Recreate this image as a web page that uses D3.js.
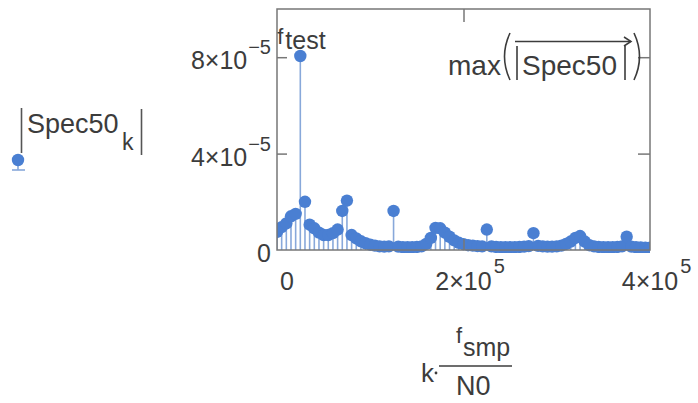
<!DOCTYPE html>
<html>
<head>
<meta charset="utf-8">
<script src="https://cdn.jsdelivr.net/npm/d3@7"></script>
<style>
  html, body { margin: 0; padding: 0; background: #ffffff; }
  svg { display: block; }
  text { font-family: "Liberation Sans", Arial, sans-serif; fill: #3c3c3c; }
</style>
</head>
<body>
<svg id="chart" width="698" height="403"></svg>
<script>
// Spectrum magnitude |Spec50_k|, bin k = 0..80 (units of 1e-5)
const spec50 = [
  0.75, 0.95, 1.10, 1.40, 1.50, 8.05, 2.00, 1.05, 0.90, 0.72,
  0.62, 0.62, 0.70, 0.85, 1.62, 2.05, 0.62, 0.48, 0.36, 0.28,
  0.22, 0.18, 0.15, 0.14, 0.15, 1.62, 0.14, 0.12, 0.12, 0.12,
  0.13, 0.15, 0.25, 0.50, 0.92, 0.90, 0.72, 0.55, 0.40, 0.30,
  0.24, 0.20, 0.18, 0.16, 0.15, 0.85, 0.15, 0.13, 0.12, 0.12,
  0.12, 0.12, 0.13, 0.14, 0.16, 0.70, 0.17, 0.15, 0.14, 0.14,
  0.15, 0.18, 0.25, 0.35, 0.50, 0.58, 0.35, 0.20, 0.15, 0.13,
  0.12, 0.12, 0.12, 0.13, 0.15, 0.55, 0.14, 0.12, 0.11, 0.10,
  0.10
];
const valueScale = 1e-5;
const fSmp = 320000;   // sampling frequency
const N0 = 64;         // number of samples
const fTest = 25000;   // test tone frequency

// axis ticks: value, mantissa, exponent
const xTicks = [[0, "0", ""], [2e5, "2×10", "5"], [4e5, "4×10", "5"]];
const yTicks = [[0, "0", ""], [4e-5, "4×10", "−5"], [8e-5, "8×10", "−5"]];

const svg = d3.select("#chart");
const x = d3.scaleLinear().domain([0, 4e5]).range([277, 650]);
const y = d3.scaleLinear().domain([0, 1e-4]).range([250, 9]);

const points = spec50.map((v, k) => ({ f: k * fSmp / N0, v: v * valueScale }));
const markerColor = "#4a7fd2";
const stemColor = "#88a8da";
const frameColor = "#777777";
const markerR = 6.2;

// traces are clipped to the plot area
svg.append("defs").append("clipPath").attr("id", "plotArea")
  .append("rect")
  .attr("x", x(0)).attr("y", y(1e-4))
  .attr("width", x(4e5) - x(0)).attr("height", y(0) - y(1e-4) + 3);

const trace = svg.append("g").attr("clip-path", "url(#plotArea)");

// stems
trace.append("g").selectAll("line").data(points).join("line")
  .attr("x1", d => x(d.f)).attr("x2", d => x(d.f))
  .attr("y1", y(0)).attr("y2", d => y(d.v))
  .attr("stroke", stemColor).attr("stroke-width", 1.6);

// markers
trace.append("g").selectAll("circle").data(points).join("circle")
  .attr("cx", d => x(d.f)).attr("cy", d => y(d.v)).attr("r", markerR)
  .attr("fill", markerColor);

// frame
svg.append("rect")
  .attr("x", x(0)).attr("y", y(1e-4))
  .attr("width", x(4e5) - x(0)).attr("height", y(0) - y(1e-4))
  .attr("fill", "none").attr("stroke", frameColor).attr("stroke-width", 1.5);

// inward ticks on all four sides
const innerX = xTicks.map(t => t[0]).filter(v => v > 0 && v < 4e5);
const innerY = yTicks.map(t => t[0]).filter(v => v > 0 && v < 1e-4);
const tickStyle = g => {
  g.select(".domain").remove();
  g.selectAll("line").attr("stroke", frameColor).attr("stroke-width", 1.5);
  g.selectAll("text").remove();
};
svg.append("g").attr("transform", `translate(0,${y(0)})`)
  .call(d3.axisBottom(x).tickValues(innerX).tickSizeInner(-11).tickSizeOuter(0)).call(tickStyle);
svg.append("g").attr("transform", `translate(0,${y(1e-4)})`)
  .call(d3.axisTop(x).tickValues(innerX).tickSizeInner(-13).tickSizeOuter(0)).call(tickStyle);
svg.append("g").attr("transform", `translate(${x(0)},0)`)
  .call(d3.axisLeft(y).tickValues(innerY).tickSizeInner(-10).tickSizeOuter(0)).call(tickStyle);
svg.append("g").attr("transform", `translate(${x(4e5)},0)`)
  .call(d3.axisRight(y).tickValues(innerY).tickSizeInner(-12).tickSizeOuter(0)).call(tickStyle);

// y tick labels (right aligned against the axis)
yTicks.forEach(([v, base, exp]) => {
  const t = svg.append("text").attr("x", 271).attr("y", y(v) + 12)
    .attr("text-anchor", "end").style("font-size", "25px");
  t.append("tspan").text(base);
  if (exp) t.append("tspan").attr("dy", -15).attr("dx", 1).style("font-size", "20px").text(exp);
});

// x tick labels (mantissa centred on the tick, exponent hanging right)
xTicks.forEach(([v, base, exp]) => {
  const cx = v === 0 ? x(v) + 10 : x(v);
  const b = svg.append("text").attr("x", cx).attr("y", 290)
    .attr("text-anchor", "middle").style("font-size", "25px").text(base);
  if (exp) {
    const w = b.node().getComputedTextLength();
    svg.append("text").attr("x", cx + w / 2 + 2).attr("y", 273)
      .style("font-size", "20px").text(exp);
  }
});

// y axis label |Spec50_k| with legend stem symbol
svg.append("line").attr("x1", 21.5).attr("x2", 21.5).attr("y1", 108).attr("y2", 153)
  .attr("stroke", "#555").attr("stroke-width", 1.6);
svg.append("line").attr("x1", 18).attr("x2", 18).attr("y1", 160).attr("y2", 170)
  .attr("stroke", stemColor).attr("stroke-width", 1.6);
svg.append("line").attr("x1", 12).attr("x2", 25).attr("y1", 170).attr("y2", 170)
  .attr("stroke", stemColor).attr("stroke-width", 1.6);
svg.append("circle").attr("cx", 18).attr("cy", 160).attr("r", markerR).attr("fill", markerColor);
svg.append("text").attr("x", 27).attr("y", 133).style("font-size", "27px").text("Spec50");
svg.append("text").attr("x", 122).attr("y", 150).style("font-size", "23px").text("k");
svg.append("line").attr("x1", 141.5).attr("x2", 141.5).attr("y1", 109).attr("y2", 155)
  .attr("stroke", "#555").attr("stroke-width", 1.6);

// x axis label k·fsmp/N0
svg.append("text").attr("x", 421).attr("y", 382).style("font-size", "26px").text("k");
svg.append("circle").attr("cx", 436).attr("cy", 373).attr("r", 1.4).attr("fill", "#3c3c3c");
svg.append("line").attr("x1", 439).attr("x2", 512).attr("y1", 366).attr("y2", 366)
  .attr("stroke", "#3c3c3c").attr("stroke-width", 1.5);
svg.append("text").attr("x", 456).attr("y", 343).style("font-size", "22px").text("f");
svg.append("text").attr("x", 463).attr("y", 356).style("font-size", "25px").text("smp");
svg.append("text").attr("x", 456).attr("y", 395).style("font-size", "27px").text("N0");

// marker label at the test frequency
svg.append("text").attr("x", x(fTest) - 23).attr("y", 44).style("font-size", "22px").text("f");
svg.append("text").attr("x", x(fTest) - 15).attr("y", 49).style("font-size", "25px").text("test");

// marker label for the spectrum maximum
svg.append("text").attr("x", 448).attr("y", 75).style("font-size", "28px").text("max");
svg.append("path").attr("d", "M510,33 Q499,56.5 510,80")
  .attr("fill", "none").attr("stroke", "#3c3c3c").attr("stroke-width", 1.6);
svg.append("path").attr("d", "M634,33 Q645,56.5 634,80")
  .attr("fill", "none").attr("stroke", "#3c3c3c").attr("stroke-width", 1.6);
svg.append("line").attr("x1", 517).attr("x2", 517).attr("y1", 46).attr("y2", 80)
  .attr("stroke", "#3c3c3c").attr("stroke-width", 1.6);
svg.append("line").attr("x1", 625).attr("x2", 625).attr("y1", 46).attr("y2", 80)
  .attr("stroke", "#3c3c3c").attr("stroke-width", 1.6);
svg.append("text").attr("x", 522).attr("y", 75).style("font-size", "28px").text("Spec50");
svg.append("line").attr("x1", 515).attr("x2", 631).attr("y1", 41.5).attr("y2", 41.5)
  .attr("stroke", "#3c3c3c").attr("stroke-width", 1.5);
svg.append("path").attr("d", "M624,37 L631,41.5 L624,46")
  .attr("fill", "none").attr("stroke", "#3c3c3c").attr("stroke-width", 1.5);
</script>
</body>
</html>
